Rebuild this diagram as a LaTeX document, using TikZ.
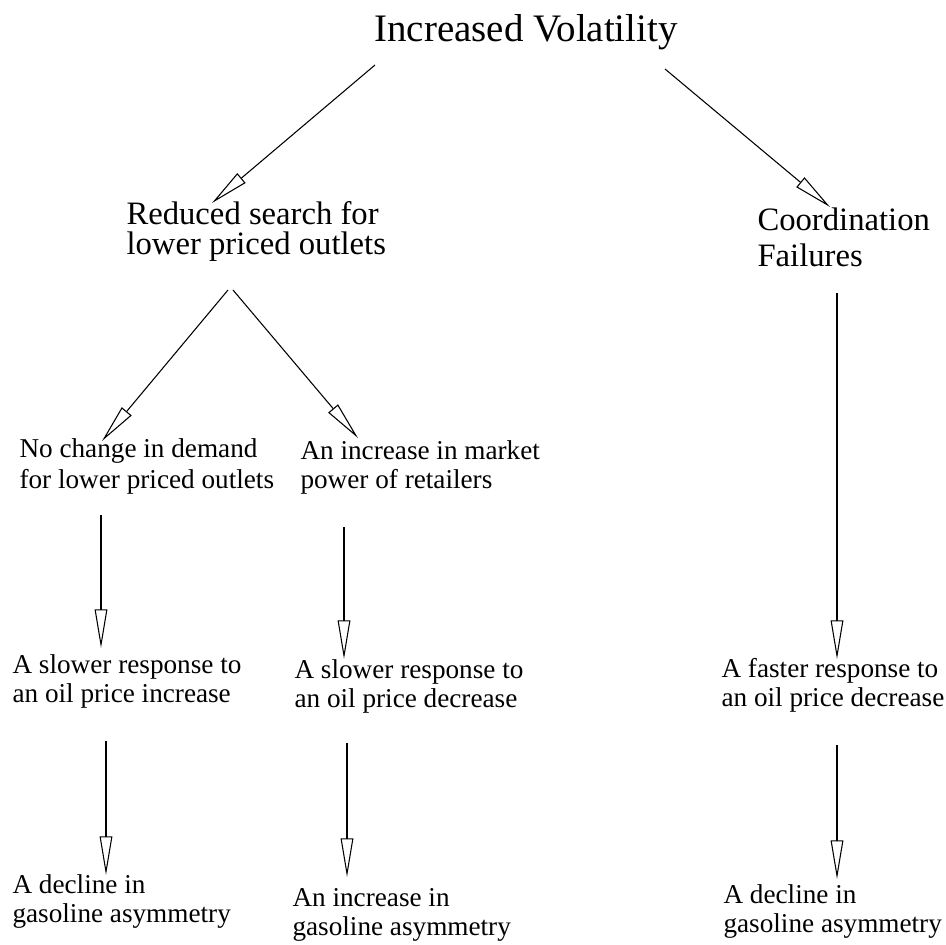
\documentclass[tikz,border=0pt]{standalone}
\usepackage{fontspec}
\setmainfont{Liberation Serif}
\usetikzlibrary{arrows.meta,calc}

\begin{document}
\begin{tikzpicture}[x=0.75pt,y=-0.75pt,->,>={Triangle[open,length=29pt,width=9.5pt]},line width=0.8pt,
    title/.style={anchor=base west,inner sep=0,font=\fontsize{29.2}{34}\selectfont},
    cause/.style={anchor=base west,inner sep=0,align=left,font=\fontsize{24.5}{22.5}\selectfont},
    effect/.style={anchor=base west,inner sep=0,align=left,font=\fontsize{20.4}{21.5}\selectfont}]
    \useasboundingbox (0,0) rectangle (946,945);
    \node[title] (1) at (374,42) {Increased Volatility};
    \node[cause] (2) at (126,254) {Reduced search for\\lower priced outlets};
    \node[cause,font=\fontsize{24.5}{27.75}\selectfont] (3) at (757,267) {Coordination\\Failures};
    \node[effect,font=\fontsize{20.4}{23.25}\selectfont] (4) at (19,488) {No change in demand\\for lower priced outlets};
    \node[effect] (5) at (300,488) {An increase in market\\power of retailers};
    \node[effect] (6) at (12,702) {A slower response to\\an oil price increase};
    \node[effect] (7) at (294,707) {A slower response to\\an oil price decrease};
    \node[effect] (8) at (721,706) {A faster response to\\an oil price decrease};
    \node[effect] (9) at (12,922) {A decline in\\gasoline asymmetry};
    \node[effect] (10) at (292,935) {An increase in\\gasoline asymmetry};
    \node[effect] (11) at (723,932) {A decline in\\gasoline asymmetry};

    \draw ($(1.base west)+(1,23)$) -- ($(2.base west)+(86,-51)$);
    \draw ($(1.base west)+(291,27)$) -- ($(3.base west)+(73,-60)$);
    \draw ($(2.base west)+(102,36)$) -- ($(4.base west)+(83,-47)$);
    \draw ($(2.base west)+(107,36)$) -- ($(5.base west)+(58,-50)$);
    \draw ($(4.base west)+(82,27)$) -- ($(6.base west)+(89,-54)$);
    \draw ($(5.base west)+(44,39)$) -- ($(7.base west)+(50,-48)$);
    \draw ($(3.base west)+(80,26)$) -- ($(8.base west)+(116,-47)$);
    \draw ($(6.base west)+(94,39)$) -- ($(9.base west)+(94,-47)$);
    \draw ($(7.base west)+(53,36)$) -- ($(10.base west)+(55,-58)$);
    \draw ($(8.base west)+(116,39)$) -- ($(11.base west)+(114,-53)$);
  \end{tikzpicture}
\end{document}
